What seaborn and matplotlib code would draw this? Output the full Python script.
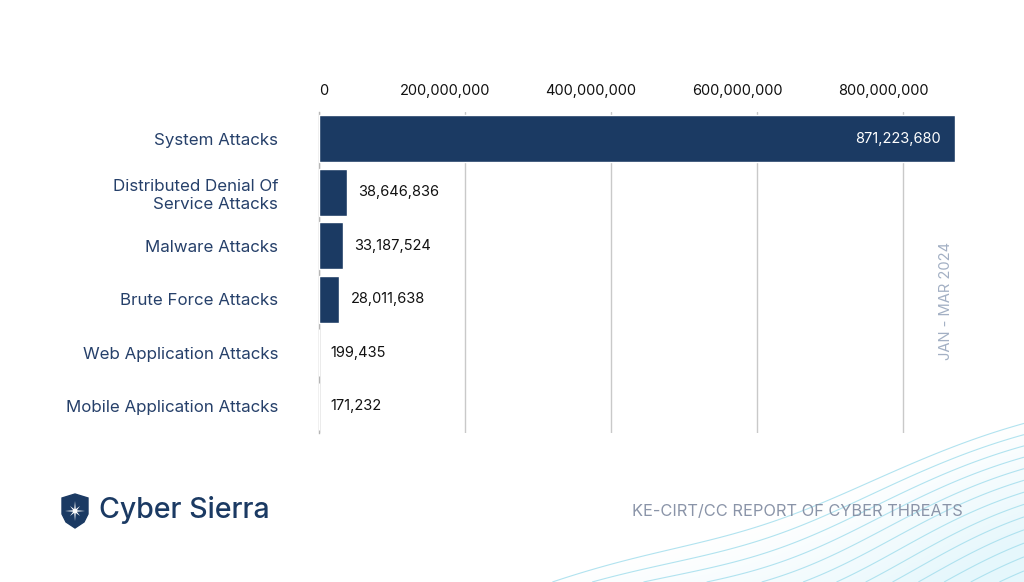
import numpy as np
import pandas as pd
import matplotlib
matplotlib.use("Agg")
import matplotlib.pyplot as plt
from matplotlib.patches import Polygon
from matplotlib.transforms import ScaledTranslation
import seaborn as sns

# ---- data ----
categories = ["System Attacks", "Distributed Denial Of\nService Attacks", "Malware Attacks",
              "Brute Force Attacks", "Web Application Attacks", "Mobile Application Attacks"]
values = [871223680, 38646836, 33187524, 28011638, 199435, 171232]
tick_values = [0, 200000000, 400000000, 600000000, 800000000]
tick_labels = ["0", "200,000,000", "400,000,000", "600,000,000", "800,000,000"]
period_label = "JAN - MAR 2024"
footer_label = "KE-CIRT/CC REPORT OF CYBER THREATS"
brand = "Cyber Sierra"

NAVY = "#1b3a63"
LABEL = "#26406a"
GRID = "#c9c9c9"

sns.set_theme(style="white")
plt.rcParams["font.family"] = ["Inter", "DejaVu Sans"]

df = pd.DataFrame({"category": categories, "value": values})

fig = plt.figure(figsize=(10.24, 5.82), dpi=100)
fig.patch.set_facecolor("white")

# ---- decorative background (contour waves bottom-right) ----
bg = fig.add_axes([0, 0, 1, 1], zorder=0)
bg.set_xlim(0, 1)
bg.set_ylim(0, 1)
bg.axis("off")
gx, gy = np.meshgrid(np.linspace(0, 1, 400), np.linspace(0, 1, 240))
field = (gx - 0.55) * 1.0 - gy * 1.75 + 0.03 * np.sin(gx * 14) + 0.02 * np.cos(gy * 11 + gx * 5)
mask = field > 0.0
rgba = np.zeros(gx.shape + (4,))
rgba[..., 0] = 0.80
rgba[..., 1] = 0.94
rgba[..., 2] = 0.98
rgba[..., 3] = np.clip(field * 1.3, 0, 0.5) * mask
bg.imshow(rgba, extent=[0, 1, 0, 1], origin="lower", aspect="auto", zorder=0)
bg.contour(gx, gy, field, levels=np.arange(0.0, 0.5, 0.038), colors="#a9e0ee",
           linewidths=0.8, alpha=0.9, zorder=1)

# ---- main bar chart ----
ax = fig.add_axes([319 / 1024, 1 - 433 / 582, (955 - 319) / 1024, (433 - 112) / 582], zorder=2)
ax.patch.set_alpha(0)
sns.barplot(data=df, x="value", y="category", orient="h", color=NAVY, width=0.87,
            saturation=1, ax=ax, zorder=3)
ax.set_xlim(0, values[0])
ax.set_ylim(5.5, -0.5)
ax.set_xlabel("")
ax.set_ylabel("")

ax.xaxis.tick_top()
ax.set_xticks(tick_values)
ax.set_xticklabels(tick_labels)
ax.tick_params(axis="x", length=0, pad=10, labelsize=10.5, labelcolor="#111111")
ax.tick_params(axis="y", length=0, pad=29.5, labelsize=12.2, labelcolor=LABEL)
for lab in ax.get_yticklabels():
    lab.set_horizontalalignment("right")
    lab.set_multialignment("right")
    lab.set_linespacing(1.25)
shift = ScaledTranslation(-20 / 100, 0, fig.dpi_scale_trans)
for i, lab in enumerate(ax.get_xticklabels()):
    if i == 0:
        lab.set_horizontalalignment("left")
    else:
        lab.set_transform(lab.get_transform() + shift)

ax.grid(axis="x", color=GRID, linewidth=1.0, zorder=1)
ax.grid(axis="y", visible=False)
for s in ["top", "right", "bottom"]:
    ax.spines[s].set_visible(False)
ax.spines["left"].set_color("#b5b5b5")
ax.spines["left"].set_linewidth(1.0)

container = ax.containers[0]
outside = [""] + [f"{v:,}" for v in values[1:]]
inside = [f"{values[0]:,}"] + [""] * (len(values) - 1)
ax.bar_label(container, labels=outside, padding=8, fontsize=10.5, color="#111111")
ax.bar_label(container, labels=inside, padding=-72, fontsize=10.5, color="white")

# ---- period label ----
fig.text(946 / 1024, 1 - 301 / 582, period_label, rotation=90, ha="center", va="center",
         fontsize=10.6, color="#a3b0c4", zorder=4)

# ---- footer ----
fig.text(632 / 1024, 1 - 511 / 582, footer_label, ha="left", va="center",
         fontsize=11.8, color="#8a94a8", zorder=4)

# logo: shield + star
logo = fig.add_axes([58 / 1024, 1 - 530 / 582, 34 / 1024, 38 / 582], zorder=4)
logo.set_xlim(0, 34)
logo.set_ylim(0, 38)
logo.axis("off")
shield = Polygon([(4, 32), (17, 36), (30, 32), (30, 16), (26, 8), (17, 2), (8, 8), (4, 16)],
                 closed=True, facecolor=NAVY, edgecolor=NAVY)
logo.add_patch(shield)
ang = np.linspace(0, 2 * np.pi, 17)[:-1]
rad = np.where(np.arange(16) % 2 == 0, np.where(np.arange(16) % 4 == 0, 10, 7), 2)
star = Polygon(np.c_[17 + rad * np.sin(ang), 19 + rad * np.cos(ang)], closed=True,
               facecolor="white", edgecolor="none")
logo.add_patch(star)
fig.text(99 / 1024, 1 - 510 / 582, brand, ha="left", va="center", fontsize=20.5,
         color=NAVY, fontweight="medium", zorder=4)

fig.savefig("out.png", dpi=100, facecolor="white")
